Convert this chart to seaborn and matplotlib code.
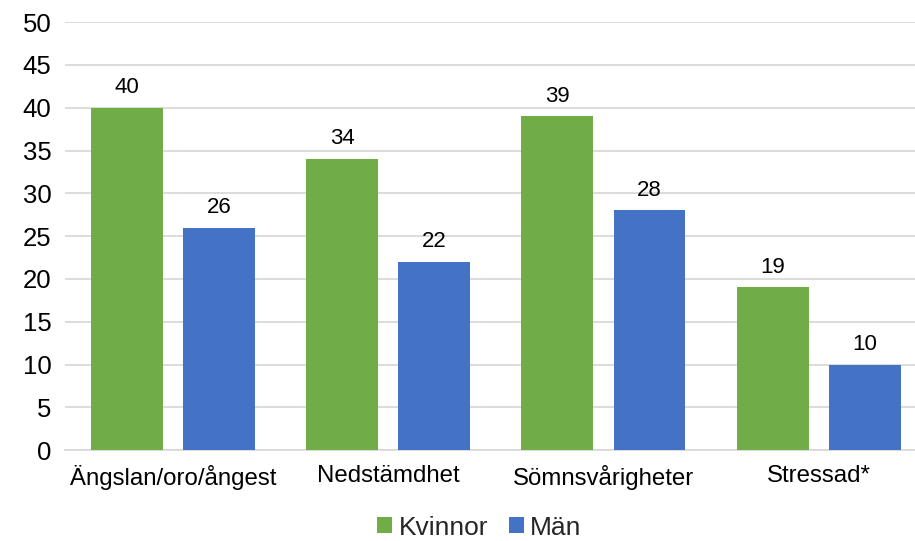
import matplotlib
matplotlib.use("Agg")
import matplotlib.pyplot as plt
import seaborn as sns
import pandas as pd

categories = ["Ängslan/oro/ångest", "Nedstämdhet", "Sömnsvårigheter", "Stressad*"]
kvinnor = [40, 34, 39, 19]
man = [26, 22, 28, 10]
series_names = ["Kvinnor", "Män"]
yticks = list(range(0, 51, 5))

df = pd.DataFrame({
    "kategori": categories * 2,
    "värde": kvinnor + man,
    "kön": [series_names[0]] * len(categories) + [series_names[1]] * len(categories),
})

sns.set_theme(style="white")
plt.rcParams["font.family"] = ["Liberation Sans", "DejaVu Sans"]

fig = plt.figure(figsize=(9.15, 5.41), dpi=100)
ax = fig.add_axes([0.0714, 0.168, 0.941, 0.791])

palette = {"Kvinnor": "#70AD47", "Män": "#4472C4"}
sns.barplot(data=df, x="kategori", y="värde", hue="kön", palette=palette,
            width=0.856, gap=0.22, saturation=1, linewidth=0, edgecolor="none",
            ax=ax, zorder=3, legend=True)

for cont in ax.containers:
    ax.bar_label(cont, labels=[f"{v:.0f}" for v in cont.datavalues],
                 padding=7, fontsize=16, color="#000000")

ax.set_ylim(0, 50)
ax.set_yticks(yticks)
ax.set_xlim(-0.5, len(categories) - 0.5)
ax.yaxis.grid(True, color="#D9D9D9", linewidth=1.3, zorder=0)
ax.set_axisbelow(True)
for s in ["top", "right", "left"]:
    ax.spines[s].set_visible(False)
ax.spines["bottom"].set_color("#D9D9D9")
ax.spines["bottom"].set_linewidth(1.3)
ax.tick_params(axis="y", labelsize=18.5, length=0, pad=10, colors="#000000")
ax.tick_params(axis="x", labelsize=17.3, length=0, pad=11, colors="#000000")
ax.set_xlabel("")
ax.set_ylabel("")

handles, labels = ax.get_legend_handles_labels()
ax.legend(handles, labels, loc="lower center", bbox_to_anchor=(0.481, -0.265),
          ncol=2, frameon=False, fontsize=19, handlelength=0.55, handleheight=0.55,
          handletextpad=0.25, columnspacing=0.8)

fig.savefig("out.png", dpi=100)
